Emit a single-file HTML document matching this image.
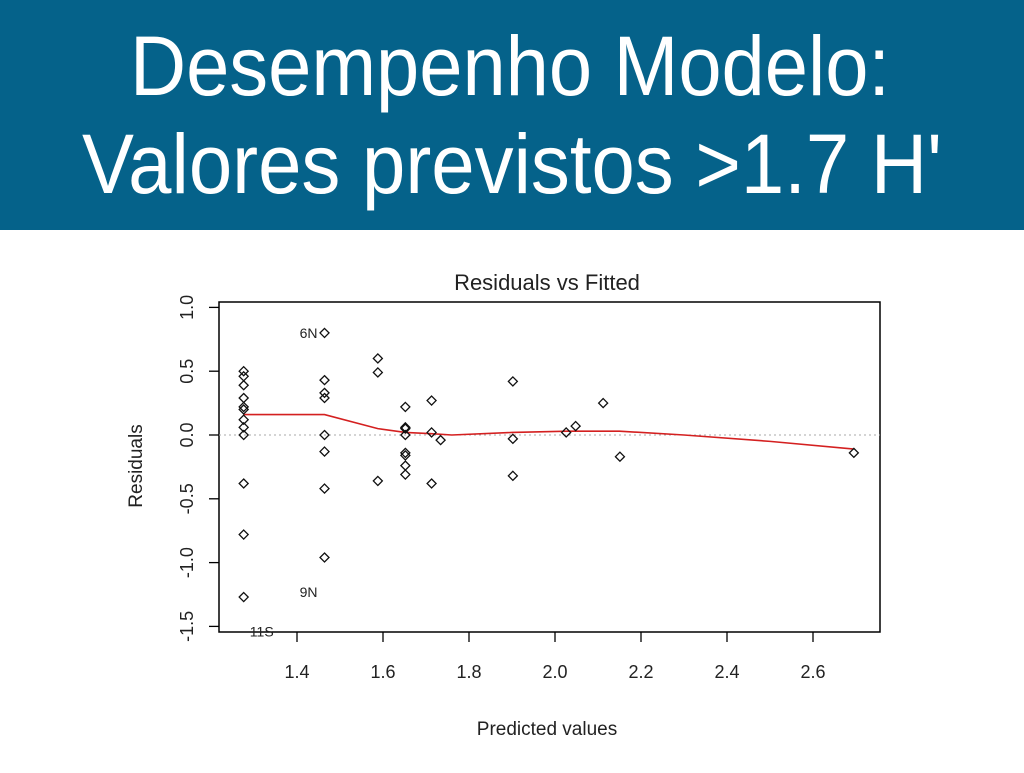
<!DOCTYPE html>
<html><head><meta charset="utf-8"><style>
body{margin:0;width:1024px;height:768px;background:#fff;overflow:hidden;font-family:"Liberation Sans",sans-serif}
</style></head><body>
<svg width="1024" height="768" xmlns="http://www.w3.org/2000/svg">
<rect x="0" y="0" width="1024" height="230" fill="#05628a"/>
<text x="130" y="95" font-size="84" fill="#fff" textLength="760" lengthAdjust="spacingAndGlyphs" font-family="Liberation Sans, sans-serif">Desempenho Modelo:</text>
<text x="82" y="193" font-size="84" fill="#fff" textLength="860" lengthAdjust="spacingAndGlyphs" font-family="Liberation Sans, sans-serif">Valores previstos &gt;1.7 H'</text>
<g id="chart"></g>
</svg>
<script>
const xs = [1.276,1.276,1.276,1.276,1.276,1.276,1.276,1.276,1.276,1.276,1.276,1.276,
 1.464,1.464,1.464,1.464,1.464,1.464,1.464,1.464,
 1.588,1.588,1.588,
 1.652,1.652,1.652,1.652,1.652,1.652,1.652,1.652,
 1.713,1.713,1.713,1.734,1.902,1.902,1.902,2.026,2.048,2.112,2.151,2.695];
const residuals = [0.50,0.46,0.39,0.29,0.22,0.20,0.12,0.06,0.0,-0.38,-0.78,-1.27,
 0.80,0.43,0.33,0.29,0,-0.13,-0.42,-0.96,
 0.60,0.49,-0.36,
 0.22,0.06,0.05,0,-0.14,-0.16,-0.24,-0.31,
 0.27,0.02,-0.38,-0.04,0.42,-0.03,-0.32,0.02,0.07,0.25,-0.17,-0.14];
const smoothX = [1.276,1.464,1.588,1.652,1.713,1.76,1.90,2.03,2.15,2.3,2.5,2.695];
const smoothY = [0.16,0.16,0.05,0.02,0.01,0.0,0.02,0.03,0.03,0.0,-0.05,-0.11];
const xTicks = [1.4,1.6,1.8,2.0,2.2,2.4,2.6];
const xTickLabels = ["1.4","1.6","1.8","2.0","2.2","2.4","2.6"];
const yTicks = [1.0,0.5,0.0,-0.5,-1.0,-1.5];
const yTickLabels = ["1.0","0.5","0.0","-0.5","-1.0","-1.5"];
const pointLabels = [["6N",1.464,0.80],["9N",1.464,-1.23],["11S",1.276,-1.54]];

const NS="http://www.w3.org/2000/svg";
const g=document.getElementById('chart');
const X=v=>297+(v-1.4)*430;
const Y=v=>435-v*127.6;
function mk(t,a){const e=document.createElementNS(NS,t);for(const k in a)e.setAttribute(k,a[k]);g.appendChild(e);return e;}
let e;
e=mk('rect',{x:219,y:302,width:661,height:330,fill:'none',stroke:'#000','stroke-width':1.5});


e=mk('line',{x1:219,x2:880,y1:Y(0),y2:Y(0),stroke:'#aaa','stroke-dasharray':'2,3'});


xTicks.forEach((t,i)=>{
 e=mk('line',{x1:X(t),x2:X(t),y1:632,y2:642,stroke:'#000','stroke-width':1.3});
 
 
 e=mk('text',{x:X(t),y:678,'font-size':18,'text-anchor':'middle',fill:'#222'});e.textContent=xTickLabels[i];
 
 
});
yTicks.forEach((t,i)=>{
 e=mk('line',{x1:209,x2:219,y1:Y(t),y2:Y(t),stroke:'#000','stroke-width':1.3});
 
 
 e=mk('text',{x:0,y:0,'font-size':18,'text-anchor':'middle',fill:'#222',transform:`translate(193,${Y(t)}) rotate(-90)`});e.textContent=yTickLabels[i];
 
 
});
let d='';smoothX.forEach((v,i)=>{d+=(i?'L':'M')+X(v)+','+Y(smoothY[i]);});
e=mk('path',{d:d,fill:'none',stroke:'#d42020','stroke-width':1.6});


xs.forEach((v,i)=>{
 const cx=X(v),cy=Y(residuals[i]);
 e=mk('path',{d:`M${cx},${cy-4.5}L${cx+4.5},${cy}L${cx},${cy+4.5}L${cx-4.5},${cy}Z`,fill:'none',stroke:'#111','stroke-width':1.3});
 
 
});
pointLabels.forEach(p=>{
 e=mk('text',{x:X(p[1])-7,y:Y(p[2])+5,'font-size':14,'text-anchor':'end',fill:'#222'});e.textContent=p[0];
 if(p[0]==="11S"){e.setAttribute('x',X(p[1])+30);}
 
 
});
e=mk('text',{x:547,y:290,'font-size':22,'text-anchor':'middle',fill:'#222'});e.textContent='Residuals vs Fitted';


e=mk('text',{x:547,y:735,'font-size':19,'text-anchor':'middle',fill:'#222'});e.textContent='Predicted values';


e=mk('text',{x:0,y:0,'font-size':19,'text-anchor':'middle',fill:'#222',transform:'translate(142,466) rotate(-90)'});e.textContent='Residuals';


</script>
</body></html>
